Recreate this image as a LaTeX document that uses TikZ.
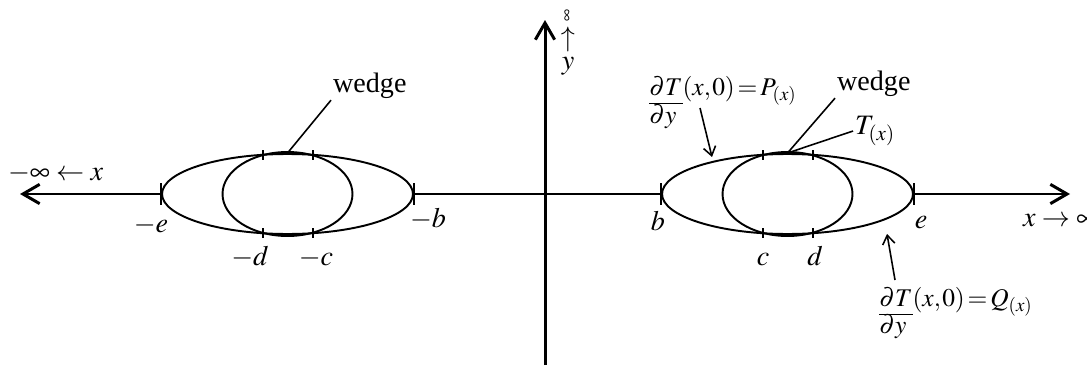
\documentclass[tikz,border=0pt]{standalone}
\usepackage{mathptmx}
\usepackage{fontspec}
\setmainfont{Liberation Serif}
\usetikzlibrary{positioning, arrows.meta, shapes.geometric, calc}
\newcommand{\tightmath}{\thickmuskip=2mu\relax\thinmuskip=1mu\relax}

\begin{document}
\begin{tikzpicture}[
    x=0.02cm, y=-0.02cm,
    axis/.style={line width=1.7pt, -{Straight Barb[length=9.5pt, width=11pt, line width=1.7pt]}},
    axisline/.style={line width=1.7pt},
    bigoval/.style={ellipse, draw, line width=1.1pt, minimum width=5.02cm, minimum height=1.6cm, inner sep=0pt},
    smalloval/.style={ellipse, draw, line width=1.1pt, minimum width=2.6cm, minimum height=1.68cm, inner sep=0pt},
    tickmark/.style={line width=1.1pt},
    lbl/.style={font=\fontsize{16}{18}\selectfont, inner sep=1pt},
    derlbl/.style={font=\fontsize{14.5}{18}\selectfont, inner sep=0pt},
    lead/.style={line width=0.9pt},
    leadarr/.style={line width=0.9pt, -{Straight Barb[length=5pt, width=7pt]}}
]
    \useasboundingbox (0,0) rectangle (1087,372);

    % ovals
    \node[bigoval] (outerL) at (287.5,194) {};
    \node[smalloval] (innerL) at (287.5,194) {};
    \node[bigoval] (outerR) at (787.5,194) {};
    \node[smalloval] (innerR) at (787.5,194) {};

    % axes
    \coordinate (tipL) at (20,194);
    \coordinate (tipR) at (1070,194);
    \coordinate (ybot) at (545,365);
    \coordinate (ytop) at (545,20);
    \draw[axis] (outerL.west) -- (tipL);
    \draw[axisline] (outerL.east) -- (outerR.west);
    \draw[axis] (outerR.east) -- (tipR);
    \draw[axis] (ybot) -- (ytop);

    % ticks
    \foreach \p in {outerL.west, outerL.east, outerR.west, outerR.east}
        \draw[tickmark] ($(\p)+(0,-11)$) -- ($(\p)+(0,11)$);
    \foreach \xx in {263, 313, 763, 813}
        \foreach \yy in {155, 233}
            \draw[tickmark] (\xx,\yy-5) -- (\xx,\yy+5);

    % axis labels
    \node[lbl, anchor=base] (mE) at (151,232) {$-e$};
    \node[lbl, anchor=base] (mB) at (428,227) {$-b$};
    \node[lbl, anchor=base] (mD) at (250,265) {$-d$};
    \node[lbl, anchor=base] (mC) at (316,265) {$-c$};
    \node[lbl, anchor=base] (pB) at (658,230) {$b$};
    \node[lbl, anchor=base] (pE) at (921,228) {$e$};
    \node[lbl, anchor=base] (pC) at (763,265) {$c$};
    \node[lbl, anchor=base] (pD) at (815,265) {$d$};
    \node[lbl, anchor=base west] (xneg) at (6,180) {$-\infty\leftarrow x$};
    \node[lbl, anchor=base west] (xpos) at (1021,226) {$x\rightarrow\infty$};

    % y-axis label
    \node[lbl, rotate=90, scale=0.6] (yinf) at (568,15) {$\infty$};
    \node[lbl] (yarr) at (568,39) {$\uparrow$};
    \node[lbl] (ylab) at (568,66) {$y$};

    % wedge leaders
    \node[lbl, anchor=base west] (wedgeL) at (331,92) {wedge};
    \node[lbl, anchor=base west] (wedgeR) at (835,90) {wedge};
    \node[lbl, anchor=west] (tR) at (853,131) {$T_{(x)}$};
    \draw[lead] (outerL.north) -- (wedgeL.south west);
    \draw[lead] (outerR.north) -- (wedgeR.south west);
    \draw[lead] (outerR.north) -- (tR.west);

    % derivative labels
    \node[derlbl, anchor=base west] (pLab) at (649,95) {\begin{tabular}[t]{@{}l@{}}
        $\tightmath\underline{\partial T\vphantom{y}}(x,0) = P_{(x)}$\\[-2pt]
        $\partial y$
    \end{tabular}};
    \node[derlbl, anchor=base west] (qLab) at (879,306) {\begin{tabular}[t]{@{}l@{}}
        $\tightmath\underline{\partial T\vphantom{y}}(x,0) = Q_{(x)}$\\[-3pt]
        $\partial y$
    \end{tabular}};
    \coordinate (pFrom) at (700,108);
    \coordinate (pTo) at (712,157);
    \coordinate (qFrom) at (895,280);
    \coordinate (qTo) at (887,234);
    \draw[leadarr] (pFrom) -- (pTo);
    \draw[leadarr] (qFrom) -- (qTo);
\end{tikzpicture}
\end{document}
